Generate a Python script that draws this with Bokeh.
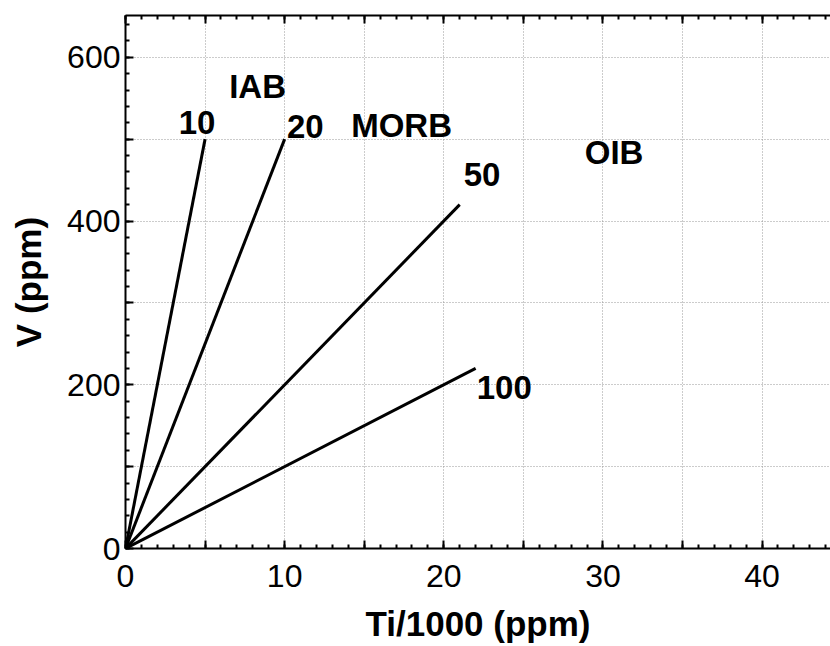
from bokeh.plotting import figure
from bokeh.models import Range1d, FixedTicker, LinearAxis, ColumnDataSource
from bokeh.core.properties import value
from bokeh.embed import file_html
from bokeh.resources import INLINE

# Ti/V ratio lines (Shervais diagram): start at origin, end points
ratios = [10, 20, 50, 100]
ti_end = [5, 10, 21, 22]          # Ti/1000 (ppm)
v_end = [500, 500, 420, 220]      # V (ppm)

# annotation labels
label_text = ["10", "20", "50", "100", "IAB", "MORB", "OIB"]
label_x = [4.5, 11.3, 22.4, 23.8, 8.3, 17.35, 30.7]
label_y = [520, 516, 457, 197, 564, 517, 484]

x_major = [0, 5, 10, 15, 20, 25, 30, 35, 40]
x_labels = {0: "0", 5: "", 10: "10", 15: "", 20: "20", 25: "", 30: "30", 35: "", 40: "40"}
y_major = [0, 100, 200, 300, 400, 500, 600]
y_labels = {0: "0", 100: "", 200: "200", 300: "", 400: "400", 500: "", 600: "600"}

FONT = "Liberation Sans"

p = figure(width=830, height=646, output_backend="svg", toolbar_location=None,
           x_range=Range1d(0, 44.3), y_range=Range1d(0, 651),
           min_border_left=125, min_border_right=0, min_border_top=15, min_border_bottom=98)
p.outline_line_color = None
p.background_fill_color = "white"
p.border_fill_color = "white"

xt = FixedTicker(ticks=x_major, minor_ticks=list(range(0, 45)))
yt = FixedTicker(ticks=y_major, minor_ticks=list(range(0, 660, 20)))

for ax, tk, lab in ((p.xaxis[0], xt, x_labels), (p.yaxis[0], yt, y_labels)):
    ax.ticker = tk
    ax.major_label_overrides = lab
    ax.major_tick_in = 8
    ax.major_tick_out = 0
    ax.minor_tick_in = 4
    ax.minor_tick_out = 0
    ax.axis_line_width = 2
    ax.major_tick_line_width = 2
    ax.minor_tick_line_width = 2
    ax.major_label_text_font = FONT
    ax.major_label_text_font_size = "32px"
    ax.major_label_text_color = "black"
    ax.axis_label_text_font = FONT
    ax.axis_label_text_font_style = "bold"
    ax.axis_label_text_font_size = "35px"
    ax.axis_label_text_color = "black"

p.xaxis.axis_label = "Ti/1000 (ppm)"
p.yaxis.axis_label = "V (ppm)"
p.xaxis.major_label_standoff = 16
p.xaxis.axis_label_standoff = 14
p.yaxis.major_label_standoff = 5
p.yaxis.axis_label_standoff = 16
p.yaxis.major_label_orientation = "horizontal"

top = LinearAxis(ticker=FixedTicker(ticks=x_major, minor_ticks=list(range(0, 45))),
                 major_tick_in=8, major_tick_out=0, minor_tick_in=4, minor_tick_out=0,
                 axis_line_width=2, major_tick_line_width=2, minor_tick_line_width=2,
                 major_label_overrides={t: "" for t in x_major},
                 major_label_text_font_size="10px", major_label_standoff=0)
p.add_layout(top, "above")

p.xgrid.ticker = FixedTicker(ticks=x_major[1:])
p.ygrid.ticker = FixedTicker(ticks=y_major[1:])
for g in (p.xgrid, p.ygrid):
    g.grid_line_color = "#999999"
    g.grid_line_dash = "1 2"
    g.grid_line_width = 1

xs = [[0, t] for t in ti_end]
ys = [[0, v] for v in v_end]
p.multi_line(xs=xs, ys=ys, line_color="black", line_width=3)

src = ColumnDataSource(dict(x=label_x, y=label_y, t=label_text))
p.text(x="x", y="y", text="t", source=src, text_font=value(FONT), text_font_style="bold",
       text_font_size="33px", text_align="center", text_baseline="middle", text_color="black")

open("out.html", "w").write(file_html(p, INLINE))
